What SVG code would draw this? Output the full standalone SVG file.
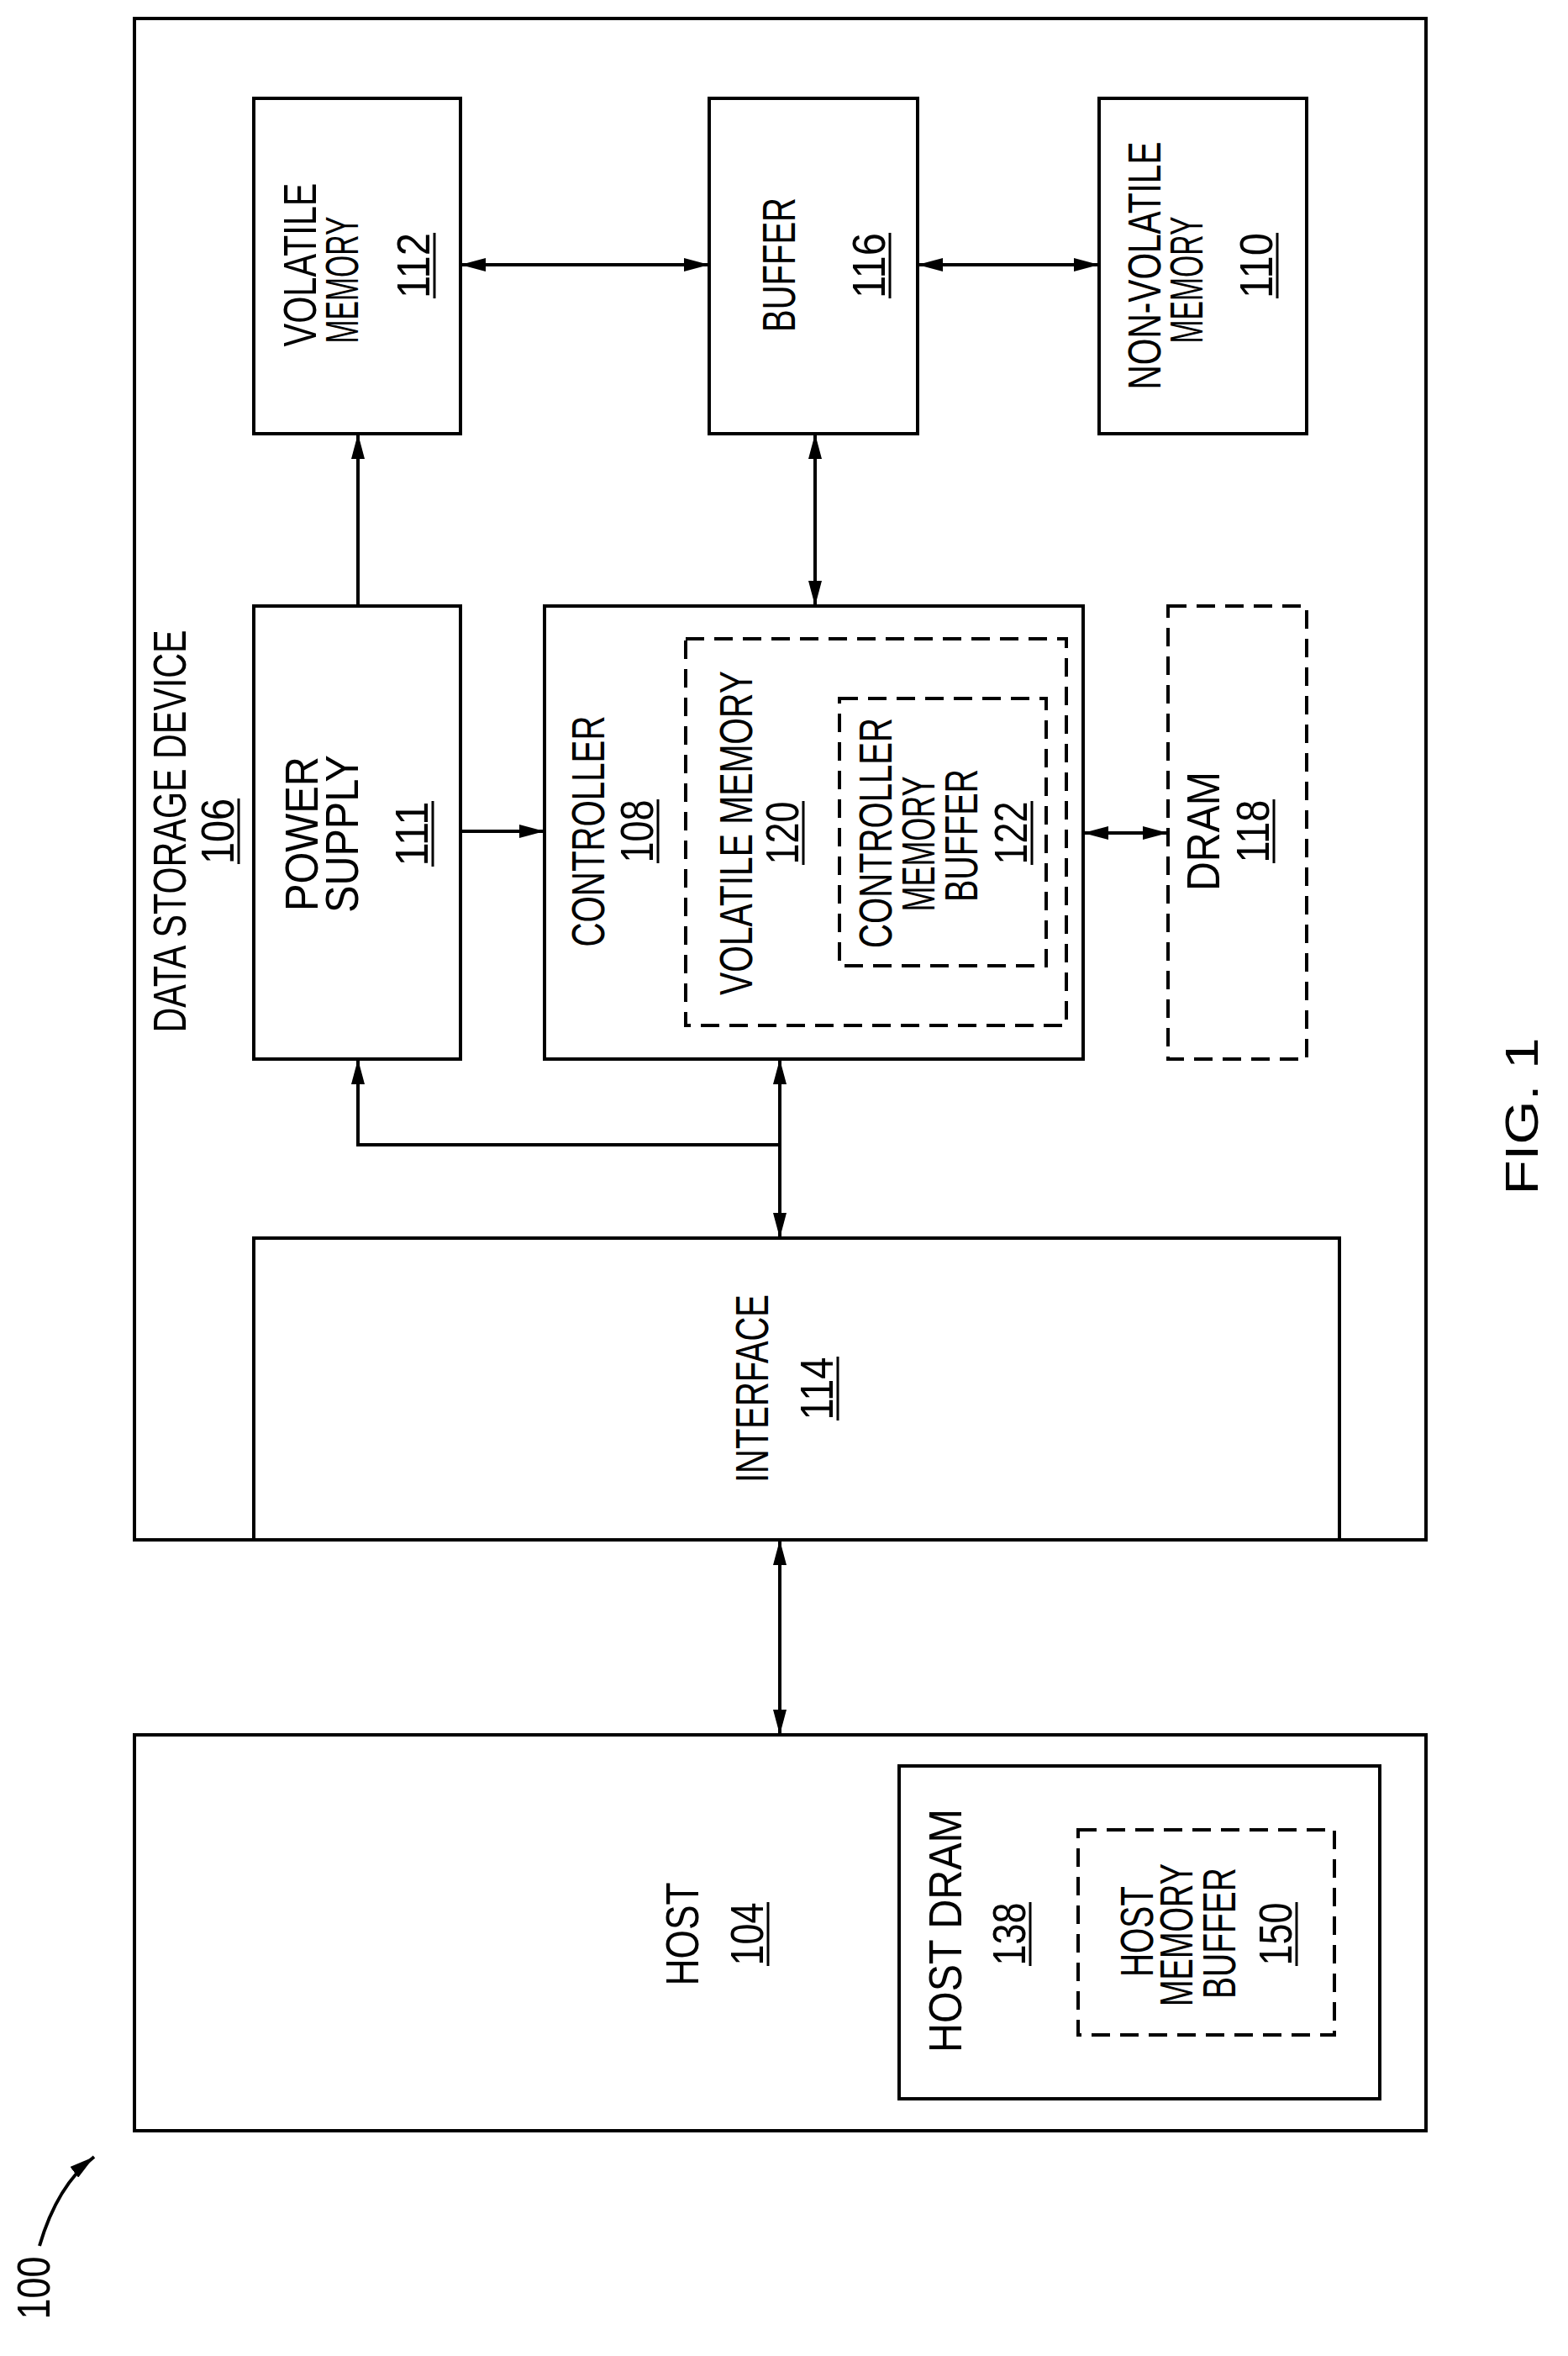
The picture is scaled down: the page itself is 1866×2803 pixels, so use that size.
<svg xmlns="http://www.w3.org/2000/svg" width="1866" height="2803" viewBox="0 0 1866 2803">
<style>
.b{fill:none;stroke:#000;stroke-width:4}
.d{fill:none;stroke:#000;stroke-width:4;stroke-dasharray:22 12}
.c{fill:none;stroke:#000;stroke-width:4}
text{font-family:"Liberation Sans",Arial,sans-serif;font-size:56px;fill:#000;text-anchor:middle}
.u{stroke:#000;stroke-width:3}
</style>
<defs>
<marker id="a" markerUnits="userSpaceOnUse" markerWidth="30" markerHeight="16" refX="30" refY="8" orient="auto-start-reverse" viewBox="0 0 30 16"><path d="M0,0 L30,8 L0,16 z" fill="#000"/></marker>
</defs>
<g id="dsd"><rect class="b" x="160" y="22" width="1537" height="1810"/>
<text transform="translate(221,989) rotate(-90)" textLength="479" lengthAdjust="spacingAndGlyphs" font-size="52">DATA STORAGE DEVICE</text>
<text transform="translate(278,989) rotate(-90)" textLength="78" lengthAdjust="spacingAndGlyphs">106</text>
<line class="u" x1="284" y1="950" x2="284" y2="1028"/></g>
<g id="vm112"><rect class="b" x="302" y="117" width="246" height="399"/>
<text transform="translate(376,315) rotate(-90)" textLength="195" lengthAdjust="spacingAndGlyphs">VOLATILE</text>
<text transform="translate(426,333) rotate(-90)" textLength="151" lengthAdjust="spacingAndGlyphs">MEMORY</text>
<text transform="translate(511,316) rotate(-90)" textLength="78" lengthAdjust="spacingAndGlyphs">112</text>
<line class="u" x1="517" y1="277" x2="517" y2="355"/></g>
<g id="buf116"><rect class="b" x="844" y="117" width="248" height="399"/>
<text transform="translate(946,315) rotate(-90)" textLength="160" lengthAdjust="spacingAndGlyphs">BUFFER</text>
<text transform="translate(1053,316) rotate(-90)" textLength="78" lengthAdjust="spacingAndGlyphs">116</text>
<line class="u" x1="1059" y1="277" x2="1059" y2="355"/></g>
<g id="nvm110"><rect class="b" x="1308" y="117" width="247" height="399"/>
<text transform="translate(1381,316) rotate(-90)" textLength="295" lengthAdjust="spacingAndGlyphs">NON-VOLATILE</text>
<text transform="translate(1431,333) rotate(-90)" textLength="151" lengthAdjust="spacingAndGlyphs">MEMORY</text>
<text transform="translate(1514,316) rotate(-90)" textLength="78" lengthAdjust="spacingAndGlyphs">110</text>
<line class="u" x1="1520" y1="277" x2="1520" y2="355"/></g>
<g id="ps111"><rect class="b" x="302" y="721" width="246" height="539"/>
<text transform="translate(378,992) rotate(-90)" textLength="184" lengthAdjust="spacingAndGlyphs" font-size="60">POWER</text>
<text transform="translate(426,992) rotate(-90)" textLength="188" lengthAdjust="spacingAndGlyphs" font-size="60">SUPPLY</text>
<text transform="translate(509,992) rotate(-90)" textLength="77" lengthAdjust="spacingAndGlyphs">111</text>
<line class="u" x1="515" y1="953" x2="515" y2="1031"/></g>
<g id="ctrl108"><rect class="b" x="648" y="721" width="641" height="539"/>
<text transform="translate(719,989) rotate(-90)" textLength="275" lengthAdjust="spacingAndGlyphs">CONTROLLER</text>
<text transform="translate(777,989) rotate(-90)" textLength="75" lengthAdjust="spacingAndGlyphs">108</text>
<line class="u" x1="783" y1="951" x2="783" y2="1027"/></g>
<g id="vm120"><rect class="d" x="816" y="760" width="453" height="460"/>
<text transform="translate(895,991) rotate(-90)" textLength="386" lengthAdjust="spacingAndGlyphs">VOLATILE MEMORY</text>
<text transform="translate(950,991) rotate(-90)" textLength="75" lengthAdjust="spacingAndGlyphs">120</text>
<line class="u" x1="956" y1="953" x2="956" y2="1029"/></g>
<g id="cmb122"><rect class="d" x="999" y="831" width="246" height="318"/>
<text transform="translate(1061,991) rotate(-90)" textLength="274" lengthAdjust="spacingAndGlyphs">CONTROLLER</text>
<text transform="translate(1112,1004) rotate(-90)" textLength="161" lengthAdjust="spacingAndGlyphs">MEMORY</text>
<text transform="translate(1163,994) rotate(-90)" textLength="158" lengthAdjust="spacingAndGlyphs">BUFFER</text>
<text transform="translate(1222,991) rotate(-90)" textLength="75" lengthAdjust="spacingAndGlyphs">122</text>
<line class="u" x1="1228" y1="953" x2="1228" y2="1029"/></g>
<g id="dram118"><rect class="d" x="1390" y="721" width="165" height="539"/>
<text transform="translate(1451,989) rotate(-90)" textLength="142" lengthAdjust="spacingAndGlyphs">DRAM</text>
<text transform="translate(1510,989) rotate(-90)" textLength="75" lengthAdjust="spacingAndGlyphs">118</text>
<line class="u" x1="1516" y1="951" x2="1516" y2="1027"/></g>
<g id="if114"><path class="b" d="M302,1832 V1473 H1594 V1832"/>
<text transform="translate(914,1652) rotate(-90)" textLength="224" lengthAdjust="spacingAndGlyphs">INTERFACE</text>
<text transform="translate(991,1652) rotate(-90)" textLength="75" lengthAdjust="spacingAndGlyphs">114</text>
<line class="u" x1="997" y1="1614" x2="997" y2="1690"/></g>
<g id="host104"><rect class="b" x="160" y="2064" width="1537" height="471"/>
<text transform="translate(831,2301) rotate(-90)" textLength="123" lengthAdjust="spacingAndGlyphs">HOST</text>
<text transform="translate(908,2301) rotate(-90)" textLength="75" lengthAdjust="spacingAndGlyphs">104</text>
<line class="u" x1="914" y1="2263" x2="914" y2="2339"/></g>
<g id="hdram138"><rect class="b" x="1070" y="2101" width="572" height="396"/>
<text transform="translate(1144,2297) rotate(-90)" textLength="290" lengthAdjust="spacingAndGlyphs">HOST DRAM</text>
<text transform="translate(1220,2301) rotate(-90)" textLength="75" lengthAdjust="spacingAndGlyphs">138</text>
<line class="u" x1="1226" y1="2263" x2="1226" y2="2339"/></g>
<g id="hmb150"><rect class="d" x="1283" y="2177" width="305" height="244"/>
<text transform="translate(1372,2298) rotate(-90)" textLength="108" lengthAdjust="spacingAndGlyphs">HOST</text>
<text transform="translate(1419,2302) rotate(-90)" textLength="170" lengthAdjust="spacingAndGlyphs">MEMORY</text>
<text transform="translate(1470,2300) rotate(-90)" textLength="156" lengthAdjust="spacingAndGlyphs">BUFFER</text>
<text transform="translate(1537,2301) rotate(-90)" textLength="75" lengthAdjust="spacingAndGlyphs">150</text>
<line class="u" x1="1543" y1="2263" x2="1543" y2="2339"/></g>
<g id="connectors">
<path class="c" d="M548,315 H844" marker-start="url(#a)" marker-end="url(#a)"/>
<path class="c" d="M1092,315 H1308" marker-start="url(#a)" marker-end="url(#a)"/>
<path class="c" d="M426,721 V516" marker-end="url(#a)"/>
<path class="c" d="M970,516 V721" marker-start="url(#a)" marker-end="url(#a)"/>
<path class="c" d="M548,989 H648" marker-end="url(#a)"/>
<path class="c" d="M1289,991 H1390" marker-start="url(#a)" marker-end="url(#a)"/>
<path class="c" d="M928,1473 V1260" marker-start="url(#a)" marker-end="url(#a)"/>
<path class="c" d="M928,1362 H426 V1260" marker-end="url(#a)"/>
<path class="c" d="M928,1832 V2064" marker-start="url(#a)" marker-end="url(#a)"/>
<path class="c" d="M47,2672 Q68,2600 112,2566" stroke-width="3" marker-end="url(#a)"/>
</g>
<text transform="translate(59,2722) rotate(-90)" textLength="75" lengthAdjust="spacingAndGlyphs" font-size="50">100</text>
<text transform="translate(1830,1328) rotate(-90)" textLength="187" lengthAdjust="spacingAndGlyphs" font-size="86">FIG. 1</text>
</svg>
